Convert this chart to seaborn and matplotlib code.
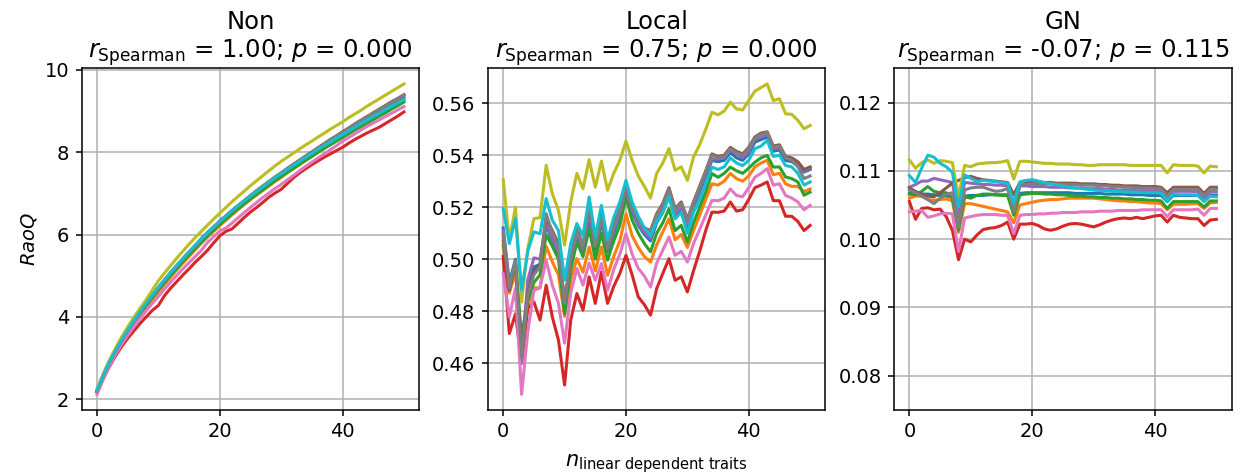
import matplotlib
matplotlib.use("Agg")
import matplotlib.pyplot as plt
import pandas as pd
import seaborn as sns

# Number of linearly dependent traits added (x axis, shared by all panels)
n_traits = list(range(51))

# Ten communities, drawn in tab10 order
series_names = ["c01", "c02", "c03", "c04", "c05", "c06", "c07", "c08", "c09", "c10"]

panel_names = ["Non", "Local", "GN"]
spearman_r = ["1.00", "0.75", "-0.07"]
spearman_p = ["0.000", "0.000", "0.115"]

# ---- RaoQ, no standardisation ----
non_c01 = [2.20, 2.55, 2.86, 3.14, 3.40, 3.64, 3.87, 4.09, 4.29, 4.49,
           4.68, 4.86, 5.04, 5.21, 5.38, 5.54, 5.70, 5.86, 6.01, 6.15,
           6.29, 6.42, 6.55, 6.67, 6.79, 6.91, 7.02, 7.13, 7.24, 7.35,
           7.45, 7.55, 7.66, 7.76, 7.86, 7.96, 8.06, 8.16, 8.26, 8.35,
           8.45, 8.54, 8.63, 8.72, 8.81, 8.90, 8.99, 9.07, 9.16, 9.24,
           9.33]
non_c02 = [2.19, 2.53, 2.83, 3.10, 3.35, 3.59, 3.81, 4.02, 4.22, 4.42,
           4.61, 4.79, 4.97, 5.14, 5.31, 5.47, 5.63, 5.79, 5.94, 6.08,
           6.22, 6.35, 6.48, 6.61, 6.73, 6.85, 6.96, 7.07, 7.18, 7.29,
           7.39, 7.50, 7.60, 7.70, 7.80, 7.90, 8.00, 8.10, 8.20, 8.29,
           8.39, 8.48, 8.57, 8.66, 8.75, 8.84, 8.93, 9.02, 9.11, 9.19,
           9.28]
non_c03 = [2.21, 2.56, 2.87, 3.15, 3.40, 3.64, 3.86, 4.08, 4.28, 4.47,
           4.66, 4.84, 5.01, 5.18, 5.35, 5.51, 5.67, 5.82, 5.97, 6.11,
           6.25, 6.38, 6.51, 6.63, 6.75, 6.87, 6.98, 7.09, 7.20, 7.31,
           7.41, 7.51, 7.61, 7.71, 7.81, 7.90, 8.00, 8.09, 8.18, 8.27,
           8.36, 8.45, 8.54, 8.62, 8.71, 8.79, 8.88, 8.96, 9.05, 9.13,
           9.22]
non_c04 = [2.18, 2.50, 2.79, 3.05, 3.28, 3.48, 3.66, 3.84, 4.00, 4.16,
           4.28, 4.52, 4.70, 4.86, 5.02, 5.17, 5.33, 5.47, 5.62, 5.80,
           5.97, 6.08, 6.14, 6.28, 6.42, 6.55, 6.66, 6.78, 6.91, 7.01,
           7.10, 7.24, 7.38, 7.50, 7.60, 7.70, 7.79, 7.88, 7.96, 8.04,
           8.12, 8.22, 8.31, 8.39, 8.47, 8.54, 8.61, 8.70, 8.79, 8.88,
           8.98]
non_c05 = [2.21, 2.57, 2.89, 3.17, 3.43, 3.67, 3.90, 4.12, 4.32, 4.52,
           4.71, 4.89, 5.07, 5.24, 5.41, 5.57, 5.73, 5.89, 6.04, 6.18,
           6.32, 6.45, 6.58, 6.70, 6.82, 6.94, 7.05, 7.16, 7.27, 7.38,
           7.49, 7.59, 7.70, 7.80, 7.90, 8.00, 8.10, 8.20, 8.30, 8.39,
           8.49, 8.58, 8.67, 8.76, 8.85, 8.94, 9.03, 9.12, 9.21, 9.29,
           9.38]
non_c06 = [2.21, 2.57, 2.89, 3.17, 3.43, 3.67, 3.90, 4.12, 4.33, 4.53,
           4.72, 4.90, 5.08, 5.25, 5.42, 5.58, 5.74, 5.90, 6.05, 6.19,
           6.33, 6.46, 6.59, 6.71, 6.83, 6.95, 7.07, 7.18, 7.29, 7.40,
           7.50, 7.61, 7.71, 7.81, 7.91, 8.01, 8.11, 8.21, 8.31, 8.40,
           8.50, 8.59, 8.69, 8.78, 8.87, 8.96, 9.05, 9.14, 9.23, 9.31,
           9.40]
non_c07 = [2.12, 2.48, 2.80, 3.08, 3.33, 3.55, 3.76, 3.96, 4.15, 4.33,
           4.50, 4.68, 4.85, 5.01, 5.17, 5.32, 5.47, 5.62, 5.81, 5.95,
           6.09, 6.16, 6.28, 6.41, 6.54, 6.66, 6.78, 6.90, 7.01, 7.12,
           7.22, 7.33, 7.44, 7.55, 7.66, 7.76, 7.86, 7.96, 8.06, 8.16,
           8.27, 8.36, 8.45, 8.54, 8.63, 8.71, 8.79, 8.87, 8.95, 9.03,
           9.11]
non_c08 = [2.20, 2.56, 2.88, 3.16, 3.42, 3.66, 3.89, 4.11, 4.32, 4.52,
           4.71, 4.89, 5.07, 5.24, 5.41, 5.57, 5.73, 5.89, 6.04, 6.18,
           6.32, 6.45, 6.58, 6.70, 6.82, 6.94, 7.06, 7.17, 7.28, 7.39,
           7.49, 7.60, 7.70, 7.80, 7.90, 8.00, 8.10, 8.20, 8.30, 8.39,
           8.49, 8.58, 8.68, 8.77, 8.86, 8.95, 9.04, 9.13, 9.22, 9.30,
           9.39]
non_c09 = [2.25, 2.62, 2.95, 3.24, 3.51, 3.76, 3.99, 4.21, 4.42, 4.65,
           4.88, 5.07, 5.25, 5.43, 5.60, 5.77, 5.93, 6.08, 6.23, 6.38,
           6.52, 6.66, 6.80, 6.93, 7.06, 7.19, 7.31, 7.43, 7.55, 7.67,
           7.78, 7.88, 7.98, 8.08, 8.18, 8.27, 8.37, 8.46, 8.56, 8.65,
           8.74, 8.84, 8.93, 9.02, 9.12, 9.21, 9.30, 9.39, 9.48, 9.57,
           9.66]
non_c10 = [2.22, 2.58, 2.90, 3.18, 3.44, 3.68, 3.91, 4.13, 4.33, 4.53,
           4.72, 4.90, 5.08, 5.25, 5.42, 5.58, 5.74, 5.89, 6.04, 6.18,
           6.32, 6.45, 6.58, 6.70, 6.82, 6.94, 7.05, 7.16, 7.27, 7.38,
           7.48, 7.58, 7.68, 7.78, 7.88, 7.97, 8.07, 8.16, 8.25, 8.34,
           8.43, 8.52, 8.61, 8.70, 8.78, 8.87, 8.95, 9.04, 9.12, 9.20,
           9.28]

# ---- RaoQ, local standardisation ----
local_c01 = [0.512, 0.491, 0.500, 0.467, 0.488, 0.497, 0.498, 0.513, 0.507, 0.502,
             0.482, 0.499, 0.508, 0.502, 0.516, 0.5035, 0.514, 0.503, 0.510, 0.5165,
             0.5265, 0.518, 0.513, 0.5095, 0.507, 0.514, 0.518, 0.5245, 0.5165, 0.519,
             0.5125, 0.520, 0.526, 0.532, 0.538, 0.5375, 0.538, 0.541, 0.539, 0.538,
             0.5405, 0.545, 0.546, 0.547, 0.5415, 0.542, 0.538, 0.5375, 0.536, 0.5335,
             0.5345]
local_c02 = [0.505, 0.487, 0.495, 0.467, 0.482, 0.489, 0.489, 0.505, 0.499, 0.494,
             0.478, 0.492, 0.5002, 0.495, 0.5047, 0.4955, 0.5047, 0.4938, 0.501, 0.507,
             0.5175, 0.509, 0.5045, 0.501, 0.4989, 0.5055, 0.5105, 0.5155, 0.5075, 0.5095,
             0.5045, 0.511, 0.517, 0.523, 0.529, 0.5285, 0.530, 0.533, 0.531, 0.530,
             0.532, 0.5355, 0.537, 0.538, 0.5325, 0.533, 0.529, 0.528, 0.528, 0.526,
             0.527]
local_c03 = [0.507, 0.488, 0.498, 0.470, 0.484, 0.491, 0.494, 0.5095, 0.505, 0.500,
             0.479, 0.496, 0.5066, 0.501, 0.5118, 0.500, 0.510, 0.4996, 0.507, 0.513,
             0.5239, 0.515, 0.510, 0.506, 0.5028, 0.510, 0.514, 0.5194, 0.511, 0.513,
             0.5066, 0.514, 0.520, 0.526, 0.5329, 0.5315, 0.533, 0.5354, 0.534, 0.533,
             0.535, 0.5373, 0.539, 0.5399, 0.5354, 0.5355, 0.5316, 0.531, 0.5297, 0.5246,
             0.5258]
local_c04 = [0.501, 0.4714, 0.479, 0.460, 0.481, 0.4836, 0.4766, 0.490, 0.4778, 0.4689,
             0.4516, 0.4766, 0.4868, 0.4804, 0.4932, 0.483, 0.4951, 0.483, 0.4895, 0.4945,
             0.5015, 0.494, 0.4855, 0.4825, 0.4785, 0.4887, 0.4945, 0.5002, 0.4919, 0.4932,
             0.4874, 0.4955, 0.503, 0.5111, 0.5181, 0.518, 0.5185, 0.522, 0.5185, 0.519,
             0.523, 0.5275, 0.5285, 0.5297, 0.5225, 0.5225, 0.5165, 0.5165, 0.5145, 0.511,
             0.513]
local_c05 = [0.511, 0.490, 0.499, 0.460, 0.492, 0.5005, 0.500, 0.514, 0.508, 0.503,
             0.4835, 0.500, 0.510, 0.504, 0.518, 0.505, 0.515, 0.504, 0.511, 0.518,
             0.527, 0.519, 0.5135, 0.5105, 0.508, 0.5155, 0.5195, 0.5255, 0.5175, 0.520,
             0.5135, 0.521, 0.527, 0.533, 0.5385, 0.5385, 0.539, 0.542, 0.5405, 0.539,
             0.5415, 0.546, 0.547, 0.548, 0.5425, 0.543, 0.539, 0.5385, 0.537, 0.534,
             0.535]
local_c06 = [0.509, 0.488, 0.499, 0.463, 0.487, 0.495, 0.498, 0.516, 0.511, 0.506,
             0.4835, 0.500, 0.512, 0.505, 0.520, 0.506, 0.517, 0.505, 0.513, 0.5195,
             0.528, 0.5205, 0.515, 0.512, 0.511, 0.5175, 0.5215, 0.5275, 0.5195, 0.522,
             0.5155, 0.522, 0.528, 0.534, 0.5405, 0.5395, 0.540, 0.543, 0.5415, 0.5405,
             0.543, 0.547, 0.5485, 0.549, 0.5435, 0.544, 0.5395, 0.539, 0.5375, 0.5345,
             0.5355]
local_c07 = [0.4945, 0.4778, 0.4888, 0.448, 0.472, 0.488, 0.489, 0.4995, 0.490, 0.483,
             0.4677, 0.487, 0.4964, 0.490, 0.4985, 0.4919, 0.4983, 0.488, 0.496, 0.502,
             0.5098, 0.502, 0.4965, 0.4935, 0.4893, 0.4985, 0.5035, 0.5085, 0.5015, 0.503,
             0.4989, 0.506, 0.5115, 0.517, 0.5226, 0.5225, 0.5235, 0.527, 0.5245, 0.524,
             0.5275, 0.5315, 0.533, 0.5348, 0.5285, 0.529, 0.5245, 0.5235, 0.522, 0.519,
             0.5207]
local_c08 = [0.510, 0.489, 0.4996, 0.462, 0.486, 0.494, 0.497, 0.5175, 0.510, 0.505,
             0.483, 0.500, 0.511, 0.505, 0.5207, 0.505, 0.516, 0.504, 0.512, 0.519,
             0.5284, 0.520, 0.515, 0.512, 0.5105, 0.517, 0.521, 0.527, 0.519, 0.5215,
             0.515, 0.522, 0.528, 0.534, 0.540, 0.539, 0.5395, 0.5425, 0.541, 0.540,
             0.5425, 0.5465, 0.548, 0.5488, 0.543, 0.5435, 0.539, 0.538, 0.5355, 0.531,
             0.532]
local_c09 = [0.5306, 0.5073, 0.520, 0.4835, 0.504, 0.5156, 0.516, 0.5361, 0.5252, 0.5188,
             0.5054, 0.522, 0.533, 0.5271, 0.5383, 0.5277, 0.5377, 0.5265, 0.533, 0.538,
             0.5454, 0.538, 0.532, 0.528, 0.5235, 0.533, 0.537, 0.5425, 0.5342, 0.5355,
             0.5303, 0.5393, 0.544, 0.550, 0.5565, 0.5555, 0.557, 0.5604, 0.5578, 0.5574,
             0.561, 0.5646, 0.566, 0.5674, 0.561, 0.5617, 0.5559, 0.5557, 0.5534, 0.5502,
             0.5514]
local_c10 = [0.5194, 0.506, 0.5156, 0.4881, 0.503, 0.5105, 0.5098, 0.5233, 0.515, 0.511,
             0.4919, 0.506, 0.5137, 0.509, 0.5239, 0.5086, 0.5207, 0.5074, 0.516, 0.522,
             0.5303, 0.522, 0.5165, 0.512, 0.509, 0.5145, 0.518, 0.524, 0.5155, 0.518,
             0.510, 0.518, 0.523, 0.529, 0.5354, 0.5345, 0.5355, 0.539, 0.537, 0.536,
             0.538, 0.5425, 0.5435, 0.5457, 0.5395, 0.540, 0.536, 0.5355, 0.533, 0.5285,
             0.5297]

# ---- RaoQ, global normalisation ----
gn_c01 = [0.1067, 0.1066, 0.1066, 0.1066, 0.1065, 0.1064, 0.1063, 0.1062, 0.1025, 0.1063,
          0.1064, 0.1064, 0.1064, 0.1065, 0.1065, 0.1065, 0.1065, 0.1043, 0.1067, 0.1068,
          0.1068, 0.1068, 0.1068, 0.1068, 0.1068, 0.1068, 0.1068, 0.1067, 0.1067, 0.1067,
          0.1067, 0.1067, 0.1066, 0.1066, 0.1066, 0.1066, 0.1065, 0.1065, 0.1065, 0.1064,
          0.1064, 0.1064, 0.1055, 0.1064, 0.1064, 0.1064, 0.1064, 0.1064, 0.1056, 0.1064,
          0.1064]
gn_c02 = [0.1060, 0.1063, 0.1063, 0.1058, 0.1057, 0.1058, 0.1059, 0.1056, 0.1010, 0.1052,
          0.1052, 0.1050, 0.1048, 0.1046, 0.1044, 0.1042, 0.1040, 0.1024, 0.1050, 0.1052,
          0.1054, 0.1056, 0.1057, 0.1058, 0.1058, 0.1059, 0.1060, 0.1060, 0.1060, 0.1060,
          0.1060, 0.1059, 0.1058, 0.1057, 0.1056, 0.1056, 0.1055, 0.1055, 0.1054, 0.1053,
          0.1053, 0.1052, 0.1043, 0.1051, 0.1051, 0.1051, 0.1052, 0.1052, 0.1045, 0.1053,
          0.1054]
gn_c03 = [0.1066, 0.1065, 0.1070, 0.1077, 0.1070, 0.1068, 0.1068, 0.1060, 0.1013, 0.1062,
          0.1060, 0.1064, 0.1066, 0.1066, 0.1065, 0.1064, 0.1064, 0.1035, 0.1065, 0.1066,
          0.1067, 0.1067, 0.1066, 0.1066, 0.1065, 0.1065, 0.1064, 0.1063, 0.1063, 0.1062,
          0.1062, 0.1061, 0.1061, 0.1060, 0.1060, 0.1059, 0.1059, 0.1058, 0.1058, 0.1057,
          0.1057, 0.1056, 0.1045, 0.1055, 0.1055, 0.1055, 0.1055, 0.1055, 0.1047, 0.1056,
          0.1056]
gn_c04 = [0.1055, 0.1029, 0.1045, 0.1046, 0.1043, 0.1044, 0.1033, 0.1013, 0.0970, 0.1000,
          0.0996, 0.1006, 0.1014, 0.1016, 0.1017, 0.1020, 0.1025, 0.1000, 0.1022, 0.1022,
          0.1023, 0.1020, 0.1015, 0.1013, 0.1015, 0.1019, 0.1022, 0.1023, 0.1022, 0.1020,
          0.1018, 0.1021, 0.1025, 0.1028, 0.1030, 0.1031, 0.1030, 0.1032, 0.1030, 0.1032,
          0.1034, 0.1035, 0.1025, 0.1035, 0.1032, 0.1031, 0.1030, 0.1030, 0.1020, 0.1028,
          0.1029]
gn_c05 = [0.1076, 0.1080, 0.1085, 0.1085, 0.1089, 0.1087, 0.1085, 0.1083, 0.1035, 0.1083,
          0.1082, 0.1081, 0.1080, 0.1080, 0.1079, 0.1079, 0.1078, 0.1048, 0.1078, 0.1078,
          0.1077, 0.1077, 0.1077, 0.1076, 0.1076, 0.1076, 0.1075, 0.1075, 0.1075, 0.1074,
          0.1074, 0.1074, 0.1073, 0.1073, 0.1072, 0.1072, 0.1072, 0.1071, 0.1071, 0.1071,
          0.1070, 0.1070, 0.1060, 0.1070, 0.1070, 0.1070, 0.1070, 0.1069, 0.1061, 0.1069,
          0.1069]
gn_c06 = [0.1075, 0.1070, 0.1066, 0.1063, 0.1062, 0.1068, 0.1075, 0.1082, 0.1086, 0.1090,
          0.1092, 0.1089, 0.1087, 0.1086, 0.1085, 0.1084, 0.1083, 0.1065, 0.1083, 0.1084,
          0.1084, 0.1083, 0.1083, 0.1083, 0.1082, 0.1082, 0.1082, 0.1082, 0.1081, 0.1081,
          0.1081, 0.1080, 0.1080, 0.1079, 0.1079, 0.1078, 0.1078, 0.1078, 0.1077, 0.1077,
          0.1077, 0.1076, 0.1068, 0.1076, 0.1076, 0.1076, 0.1076, 0.1076, 0.1067, 0.1076,
          0.1076]
gn_c07 = [0.1040, 0.1041, 0.1042, 0.1032, 0.1034, 0.1037, 0.1038, 0.1037, 0.0982, 0.1031,
          0.1033, 0.1035, 0.1036, 0.1036, 0.1036, 0.1035, 0.1035, 0.1008, 0.1035, 0.1036,
          0.1036, 0.1037, 0.1037, 0.1038, 0.1038, 0.1039, 0.1039, 0.1039, 0.1040, 0.1040,
          0.1040, 0.1041, 0.1041, 0.1041, 0.1042, 0.1042, 0.1042, 0.1042, 0.1043, 0.1043,
          0.1043, 0.1043, 0.1033, 0.1043, 0.1043, 0.1043, 0.1043, 0.1044, 0.1035, 0.1045,
          0.1045]
gn_c08 = [0.1072, 0.1068, 0.1063, 0.1058, 0.1052, 0.1060, 0.1066, 0.1068, 0.1018, 0.1072,
          0.1075, 0.1076, 0.1076, 0.1073, 0.1070, 0.1071, 0.1074, 0.1040, 0.1079, 0.1080,
          0.1081, 0.1081, 0.1081, 0.1081, 0.1080, 0.1080, 0.1080, 0.1080, 0.1079, 0.1079,
          0.1079, 0.1078, 0.1078, 0.1077, 0.1077, 0.1076, 0.1076, 0.1075, 0.1075, 0.1075,
          0.1074, 0.1074, 0.1063, 0.1073, 0.1073, 0.1073, 0.1073, 0.1073, 0.1064, 0.1073,
          0.1073]
gn_c09 = [0.1116, 0.1104, 0.1112, 0.1116, 0.1111, 0.1115, 0.1114, 0.1112, 0.1062, 0.1108,
          0.1106, 0.1110, 0.1111, 0.1112, 0.1112, 0.1113, 0.1115, 0.1088, 0.1114, 0.1114,
          0.1113, 0.1112, 0.1111, 0.1111, 0.1110, 0.1110, 0.1110, 0.1109, 0.1109, 0.1108,
          0.1108, 0.1109, 0.1109, 0.1109, 0.1109, 0.1109, 0.1108, 0.1108, 0.1108, 0.1108,
          0.1108, 0.1108, 0.1097, 0.1109, 0.1108, 0.1108, 0.1108, 0.1107, 0.1097, 0.1107,
          0.1106]
gn_c10 = [0.1093, 0.1083, 0.1104, 0.1123, 0.1120, 0.1111, 0.1106, 0.1098, 0.1047, 0.1094,
          0.1089, 0.1084, 0.1086, 0.1085, 0.1084, 0.1083, 0.1082, 0.1053, 0.1084, 0.1086,
          0.1087, 0.1085, 0.1083, 0.1081, 0.1080, 0.1078, 0.1076, 0.1075, 0.1074, 0.1073,
          0.1072, 0.1071, 0.1071, 0.1070, 0.1070, 0.1069, 0.1069, 0.1069, 0.1068, 0.1068,
          0.1068, 0.1067, 0.1056, 0.1066, 0.1065, 0.1065, 0.1065, 0.1064, 0.1055, 0.1063,
          0.1062]

panel_values = {
    "Non": [non_c01, non_c02, non_c03, non_c04, non_c05,
            non_c06, non_c07, non_c08, non_c09, non_c10],
    "Local": [local_c01, local_c02, local_c03, local_c04, local_c05,
              local_c06, local_c07, local_c08, local_c09, local_c10],
    "GN": [gn_c01, gn_c02, gn_c03, gn_c04, gn_c05,
           gn_c06, gn_c07, gn_c08, gn_c09, gn_c10],
}

# Long-form table for seaborn
rows = []
for panel, series_list in panel_values.items():
    for name, values in zip(series_names, series_list):
        for n, v in zip(n_traits, values):
            rows.append({"panel": panel, "community": name, "n": n, "RaoQ": v})
df = pd.DataFrame(rows)

plt.rcParams.update({
    "axes.edgecolor": "black",
    "axes.linewidth": 1.1,
    "xtick.major.width": 1.1,
    "ytick.major.width": 1.1,
    "xtick.major.size": 4.5,
    "ytick.major.size": 4.5,
    "xtick.major.pad": 4.5,
    "ytick.major.pad": 4.5,
    "xtick.labelsize": 14,
    "ytick.labelsize": 14,
})

fig, axes = plt.subplots(1, 3, figsize=(12.41, 4.75), dpi=100)
fig.subplots_adjust(left=0.0658, right=0.9925, bottom=0.137, top=0.856, wspace=0.203)

for ax, panel, r, p in zip(axes, panel_names, spearman_r, spearman_p):
    sub = df[df["panel"] == panel]
    sns.lineplot(data=sub, x="n", y="RaoQ", hue="community", hue_order=series_names,
                 palette="tab10", estimator=None, legend=False, linewidth=2.2, ax=ax)
    ax.grid(True, color="#b0b0b0", linewidth=1.1)
    ax.set_axisbelow(True)
    ax.set_xticks([0, 20, 40])
    ax.set_title(f"{panel}\n$r_{{\\mathrm{{Spearman}}}}$ = {r}; $p$ = {p}", fontsize=17.5)
    ax.set_xlabel("")
    ax.set_ylabel("")

axes[0].set_yticks([2, 4, 6, 8, 10])
axes[0].set_ylabel("$RaoQ$", fontsize=14)
axes[1].set_xlabel("$n_{\\mathrm{linear\\ dependent\\ traits}}$", fontsize=15, labelpad=8)
axes[2].set_ylim(0.075, 0.125)

fig.savefig("out.png", dpi=100)
